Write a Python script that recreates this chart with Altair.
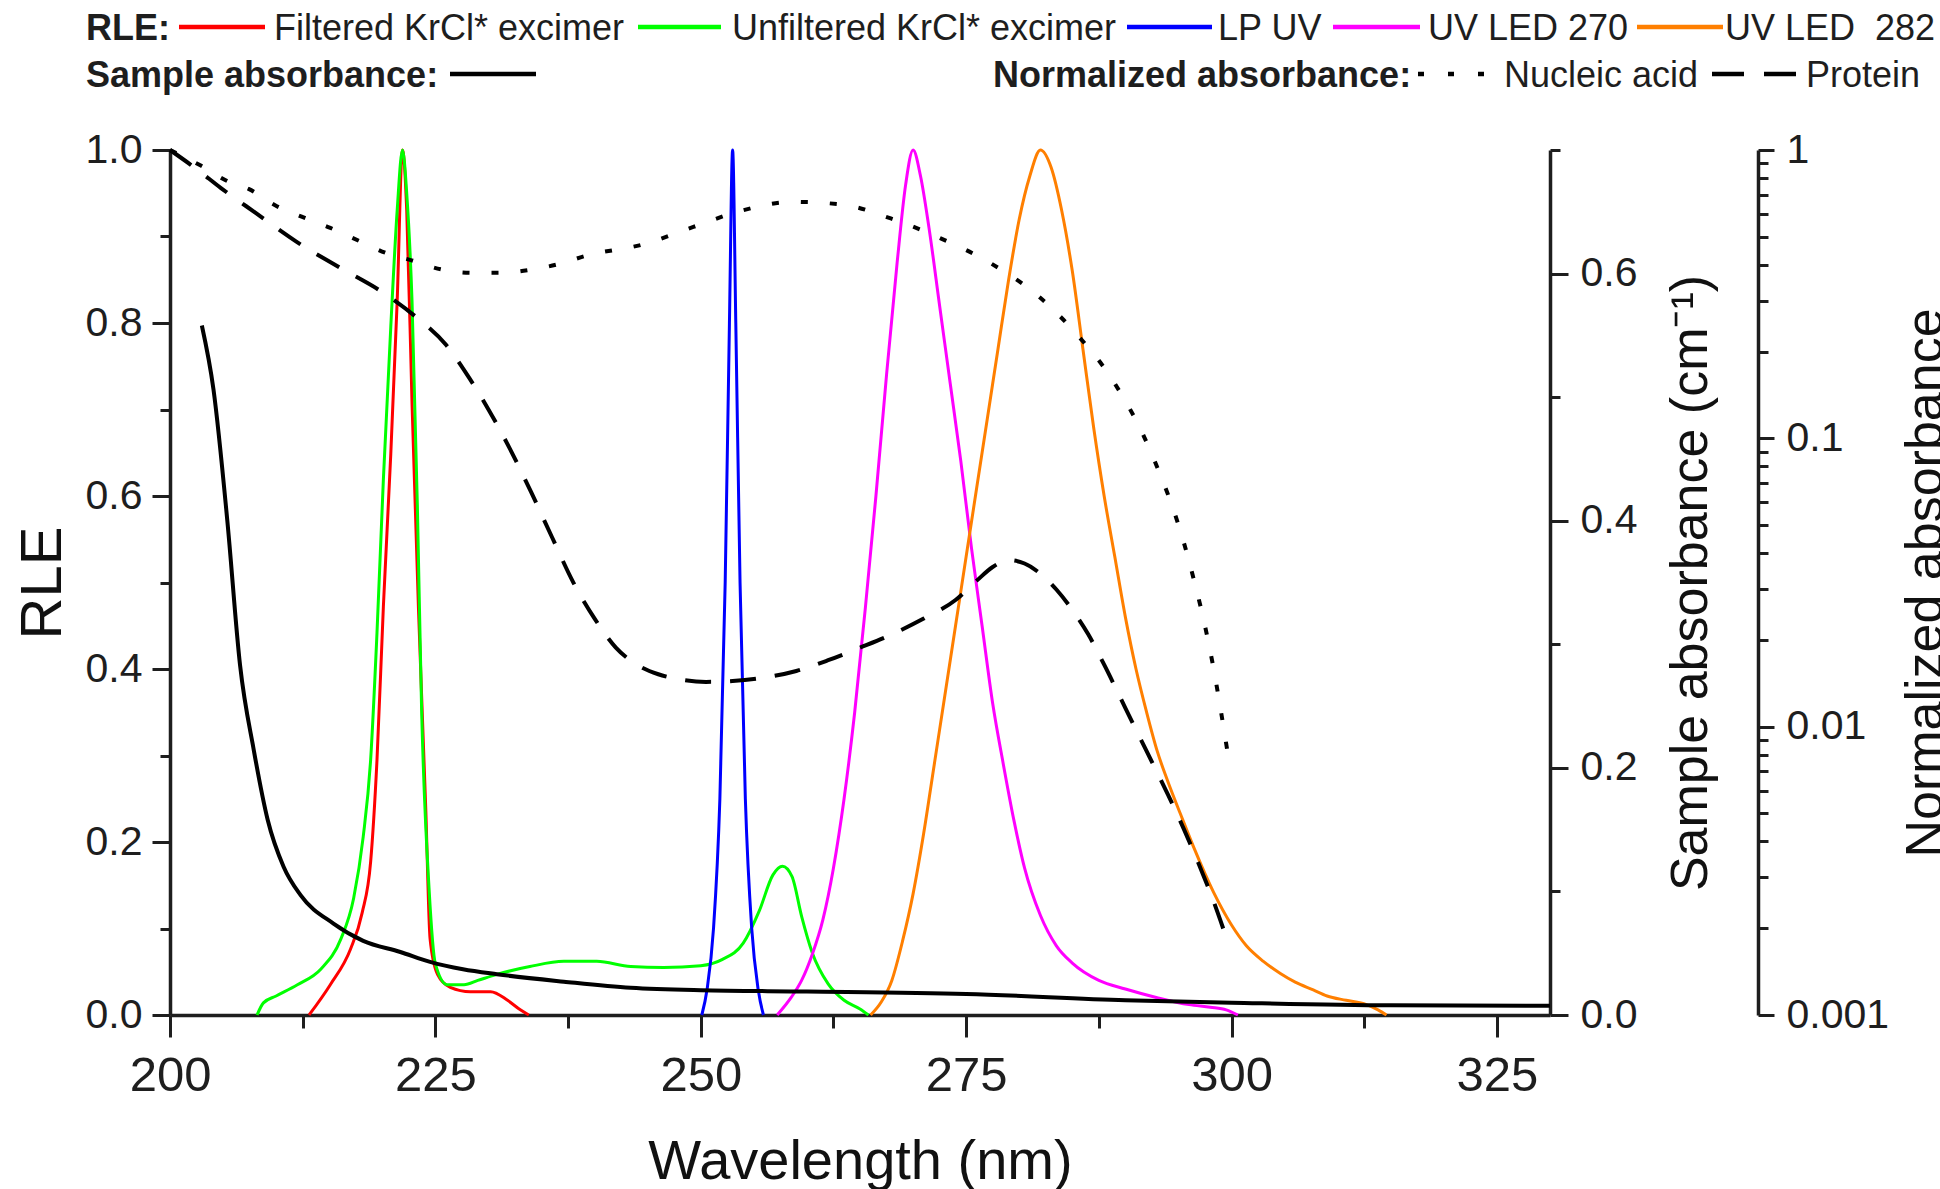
import altair as alt
import pandas as pd

# ---------------- data ----------------
filt_wl = [213.1, 215.1, 217.0, 218.1, 218.9, 219.5, 220.1, 220.8, 221.4, 221.9, 222.3,
           222.8, 223.4, 224.1, 224.5, 225.2, 226.4, 228.3, 230.2, 231.8, 233.0, 233.8]
filt_rle = [0, 0.035, 0.076, 0.118, 0.177, 0.295, 0.472, 0.649, 0.825, 1.0, 0.93,
            0.707, 0.472, 0.236, 0.088, 0.047, 0.032, 0.027, 0.027, 0.017, 0.006, 0]

unf_wl = [208.2, 208.8, 210.0, 212.0, 214.2, 216.1, 217.3, 218.2, 218.9, 219.5, 220.1,
          220.8, 221.4, 221.9, 222.3, 222.8, 223.3, 223.7, 224.4, 225.0, 226.1, 227.7,
          229.0, 230.8, 233.9, 237.1, 240.2, 243.4, 246.5, 250.0, 252.0, 254.0, 255.5,
          256.8, 257.7, 258.6, 259.5, 260.5, 262.0, 263.5, 265.0, 265.8]
unf_rle = [0, 0.014, 0.022, 0.035, 0.053, 0.088, 0.135, 0.206, 0.295, 0.442, 0.619,
           0.796, 0.93, 1.0, 0.95, 0.825, 0.59, 0.354, 0.147, 0.059, 0.035, 0.035,
           0.04, 0.047, 0.056, 0.062, 0.062, 0.056, 0.055, 0.057, 0.064, 0.083, 0.12,
           0.162, 0.172, 0.16, 0.114, 0.072, 0.036, 0.017, 0.007, 0]

lp_wl = [250.1, 250.6, 251.2, 251.8, 252.3, 252.7, 253.0, 253.3, 253.7, 254.2, 254.8, 255.4, 255.9]
lp_rle = [0, 0.03, 0.1, 0.25, 0.5, 0.8, 1.0, 0.8, 0.5, 0.25, 0.1, 0.03, 0]

led270_wl = [257.2, 258.5, 259.5, 260.5, 261.5, 262.5, 263.5, 264.5, 265.5, 266.5, 267.5,
             268.5, 269.3, 270.0, 270.7, 271.5, 272.5, 273.5, 274.5, 275.5, 276.5, 277.5,
             278.5, 279.5, 280.5, 282.0, 283.5, 285.0, 287.5, 290.0, 293.0, 296.0, 298.0,
             299.5, 300.6]
led270_rle = [0, 0.02, 0.04, 0.07, 0.11, 0.17, 0.25, 0.35, 0.47, 0.60, 0.74,
              0.87, 0.96, 1.0, 0.97, 0.91, 0.82, 0.73, 0.64, 0.54, 0.45, 0.36,
              0.29, 0.225, 0.17, 0.115, 0.08, 0.06, 0.04, 0.03, 0.02, 0.012, 0.009,
              0.006, 0]

led282_wl = [266.0, 267.0, 268.0, 269.0, 270.0, 271.0, 272.0, 273.0, 274.0, 275.0, 276.0,
             277.0, 278.0, 279.0, 280.0, 281.0, 282.0, 283.0, 284.0, 285.0, 286.0, 287.0,
             288.0, 289.0, 290.0, 291.0, 292.0, 293.0, 294.0, 295.2, 296.5, 298.3, 300.0,
             301.4, 303.0, 304.6, 306.0, 307.7, 309.0, 310.8, 312.7, 313.8, 314.6]
led282_rle = [0, 0.015, 0.04, 0.085, 0.14, 0.21, 0.29, 0.37, 0.45, 0.53, 0.61,
              0.69, 0.77, 0.85, 0.92, 0.97, 1.0, 0.98, 0.93, 0.86, 0.77, 0.68,
              0.60, 0.53, 0.46, 0.40, 0.35, 0.305, 0.27, 0.232, 0.192, 0.142, 0.104,
              0.080, 0.062, 0.048, 0.038, 0.029, 0.022, 0.017, 0.012, 0.006, 0]

sample_wl = [203.0, 204.1, 205.4, 206.6, 207.9, 209.2, 210.7, 212.3, 215.4, 218.2, 221.7,
             224.5, 227.6, 230.8, 237.1, 243.4, 250.0, 260.0, 275.0, 290.0, 300.0, 315.0, 330.0]
sample_abs = [0.558, 0.506, 0.40, 0.283, 0.214, 0.158, 0.12, 0.097, 0.074, 0.060, 0.051,
              0.043, 0.037, 0.033, 0.027, 0.022, 0.020, 0.019, 0.017, 0.012, 0.010, 0.0078, 0.0075]

nucleic_wl = [200, 202.9, 205.6, 207.4, 209.9, 212.4, 215.1, 217.8, 220.3, 222.6, 225.6,
              228.5, 231.3, 234.1, 236.6, 239.3, 244.6, 249.3, 253.9, 258.6, 263.3, 267.9,
              272.6, 277.2, 281.9, 285.4, 288.9, 292.4, 295.9, 298.2, 299.7]
nucleic_abs = [1.0, 0.883, 0.774, 0.733, 0.643, 0.587, 0.537, 0.484, 0.440, 0.416, 0.385,
               0.375, 0.375, 0.385, 0.402, 0.431, 0.471, 0.541, 0.617, 0.661, 0.647, 0.579,
               0.494, 0.407, 0.309, 0.230, 0.157, 0.0897, 0.0386, 0.0167, 0.00783]

protein_wl = [200, 202.5, 204.8, 208.1, 211.9, 216.0, 220.2, 223.1, 226.0, 228.0, 230.0,
              232.0, 234.0, 236.0, 238.0, 240.0, 242.0, 244.0, 246.0, 248.0, 250.5, 253.0,
              256.0, 259.0, 262.0, 265.0, 268.0, 271.0, 274.0, 276.0, 277.5, 279.0, 280.5,
              282.0, 283.5, 285.0, 286.5, 288.0, 290.0, 292.0, 294.0, 295.5, 297.0, 298.2, 299.5]
protein_abs = [1.0, 0.859, 0.738, 0.604, 0.481, 0.391, 0.318, 0.265, 0.211, 0.166, 0.126,
               0.0923, 0.0653, 0.0453, 0.0316, 0.0237, 0.0188, 0.0164, 0.0152, 0.0146, 0.0143, 0.0144,
               0.0148, 0.0156, 0.0170, 0.0188, 0.0209, 0.0237, 0.0275, 0.0321, 0.0358, 0.0378, 0.0368,
               0.0339, 0.0299, 0.0254, 0.0209, 0.0164, 0.0116, 0.00822, 0.00582, 0.00442, 0.00328,
               0.00254, 0.00186]

rle_names = ["Filtered KrCl* excimer", "Unfiltered KrCl* excimer", "LP UV", "UV LED 270", "UV LED 282"]
rle_colors = ["#ff0000", "#00ff00", "#0000ff", "#ff00ff", "#ff7f00"]
norm_names = ["Nucleic acid", "Protein"]

rle_ticks = [i / 10 for i in range(11)]
abs_ticks = [i / 10 for i in range(8)]
log_ticks = sorted({round(m * 10 ** e, 6) for e in (-3, -2, -1) for m in range(1, 10)} | {1.0})
x_ticks = [200 + 12.5 * i for i in range(11)]

# ---------------- tables ----------------
emis = pd.concat([
    pd.DataFrame({"wl": w, "rle": r, "series": n})
    for w, r, n in zip([filt_wl, unf_wl, lp_wl, led270_wl, led282_wl],
                       [filt_rle, unf_rle, lp_rle, led270_rle, led282_rle], rle_names)
])
samp = pd.DataFrame({"wl": sample_wl, "absorb": sample_abs})
norm = pd.concat([
    pd.DataFrame({"wl": nucleic_wl, "norm": nucleic_abs, "series": norm_names[0]}),
    pd.DataFrame({"wl": protein_wl, "norm": protein_abs, "series": norm_names[1]}),
])

FONT = "Liberation Sans"
INK = "#1e1e1e"
W, H = 1380, 865

common_axis = dict(domainColor=INK, domainWidth=3.5, tickColor=INK, tickWidth=3,
                   labelColor=INK, labelFont=FONT, titleFont=FONT, titleColor="#111111",
                   titleFontWeight="normal", grid=False, labelFlush=False, labelOverlap=False)

x_enc = alt.X(
    "wl:Q",
    scale=alt.Scale(domain=[200, 330], nice=False, zero=False),
    axis=alt.Axis(
        values=x_ticks,
        labelExpr="datum.value % 25 == 0 ? format(datum.value, 'd') : ''",
        tickSize={"condition": {"test": "datum.value % 25 == 0", "value": 22}, "value": 13},
        labelFontSize=49, labelPadding=14,
        title="Wavelength (nm)", titleFontSize=56, titleX=W / 2, titleY=163,
        titleBaseline="alphabetic", titleAlign="center",
        **common_axis),
)

major5 = "abs(datum.value*5 - round(datum.value*5)) < 1e-6"
rle_layer = alt.Chart(emis).mark_line(strokeWidth=3, interpolate="monotone").encode(
    x=x_enc,
    y=alt.Y("rle:Q", scale=alt.Scale(domain=[0, 1], nice=False, zero=False),
            axis=alt.Axis(orient="left", values=rle_ticks,
                          labelExpr=f"{major5} ? format(datum.value, '.1f') : ''",
                          tickSize={"condition": {"test": major5, "value": 18}, "value": 10},
                          labelFontSize=41, labelPadding=10,
                          title="RLE", titleFontSize=58, titleAngle=270,
                          titleX=-110, titleY=H / 2, titleBaseline="alphabetic", titleAlign="center",
                          **common_axis)),
    color=alt.Color("series:N", scale=alt.Scale(domain=rle_names, range=rle_colors), legend=None),
    detail="series:N",
)

samp_layer = alt.Chart(samp).mark_line(strokeWidth=4, color="#000000", interpolate="monotone").encode(
    x=x_enc,
    y=alt.Y("absorb:Q", scale=alt.Scale(domain=[0, 0.7], nice=False, zero=False),
            axis=alt.Axis(orient="right", values=abs_ticks,
                          labelExpr=f"{major5} ? format(datum.value, '.1f') : ''",
                          tickSize={"condition": {"test": major5, "value": 18}, "value": 10},
                          labelFontSize=41, labelPadding=12,
                          title="Sample absorbance (cm\u207b\u00b9)", titleFontSize=52, titleAngle=270,
                          titleX=156, titleY=H / 2, titleBaseline="alphabetic", titleAlign="center",
                          **common_axis)),
)

decade = "abs(log(datum.value)/LN10 - round(log(datum.value)/LN10)) < 1e-6"
norm_layer = alt.Chart(norm).mark_line(strokeWidth=4, color="#000000", interpolate="monotone",
                                       strokeCap="butt").encode(
    x=x_enc,
    y=alt.Y("norm:Q", scale=alt.Scale(type="log", domain=[0.001, 1], nice=False),
            axis=alt.Axis(orient="right", offset=208, values=log_ticks,
                          labelExpr=f"{decade} ? format(datum.value, '~g') : ''",
                          tickSize={"condition": {"test": decade, "value": 16}, "value": 10},
                          labelFontSize=41, labelPadding=12,
                          title="Normalized absorbance", titleFontSize=52, titleAngle=270,
                          titleX=183, titleY=H / 2, titleBaseline="alphabetic", titleAlign="center",
                          **common_axis)),
    strokeDash=alt.StrokeDash("series:N", scale=alt.Scale(domain=norm_names, range=[[7, 22], [26, 19]]),
                              legend=None),
    detail="series:N",
)

# ---------------- hand-made legend ----------------
one = alt.Data(values=[{"k": 0}])


def txt(s, x, y, bold=False):
    return alt.Chart(one).mark_text(text=s, align="left", baseline="alphabetic", font=FONT,
                                    fontSize=36, fontWeight="bold" if bold else "normal",
                                    color=INK).encode(x=alt.value(x), y=alt.value(y))


def seg(x1, x2, y, color, dash=None):
    kw = dict(color=color, strokeWidth=4.5, strokeCap="butt")
    if dash:
        kw["strokeDash"] = dash
    return alt.Chart(one).mark_rule(**kw).encode(x=alt.value(x1), x2=alt.value(x2), y=alt.value(y))


r1l, r1t, r2l, r2t = -123, -110, -76, -63
legend = [
    txt("RLE:", -84, r1t, True),
    seg(9, 95, r1l, rle_colors[0]), txt(rle_names[0], 104, r1t),
    seg(468, 551, r1l, rle_colors[1]), txt(rle_names[1], 562, r1t),
    seg(957, 1042, r1l, rle_colors[2]), txt(rle_names[2], 1048, r1t),
    seg(1163, 1250, r1l, rle_colors[3]), txt(rle_names[3], 1258, r1t),
    seg(1467, 1553, r1l, rle_colors[4]), txt("UV LED\u00a0 282", 1555, r1t),
    txt("Sample absorbance:", -84, r2t, True),
    seg(280, 366, r2l, "#000000"),
    txt("Normalized absorbance:", 823, r2t, True),
    seg(1248, 1320, r2l, "#000000", [6, 24]), txt(norm_names[0], 1334, r2t),
    seg(1542, 1626, r2l, "#000000", [32, 20]), txt(norm_names[1], 1636, r2t),
]

chart = alt.layer(rle_layer, samp_layer, norm_layer, *legend).resolve_scale(
    y="independent"
).properties(
    width=W, height=H,
    padding={"left": 170, "top": 150, "right": 390, "bottom": 174},
    autosize=alt.AutoSizeParams(type="none"),
    background="white",
).configure_view(stroke=None)

chart.save("out.html", embed_options={"renderer": "svg", "actions": False})
